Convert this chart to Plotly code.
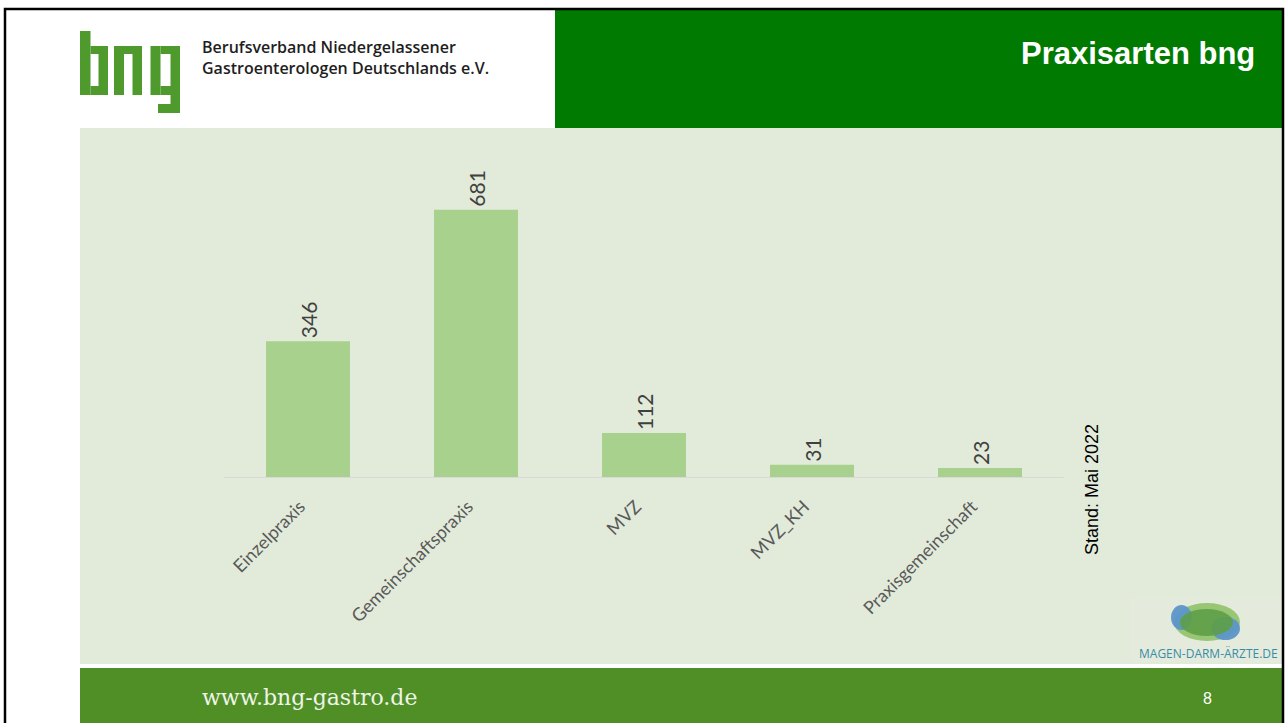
import plotly.graph_objects as go

# Praxisarten der bng-Mitglieder
categories = ["Einzelpraxis", "Gemeinschaftspraxis", "MVZ", "MVZ_KH", "Praxisgemeinschaft"]
counts = [346, 681, 112, 31, 23]

title_text = "Praxisarten bng"
org_lines = ["Berufsverband Niedergelassener", "Gastroenterologen Deutschlands e.V."]
stand_text = "Stand: Mai 2022"
footer_url = "www.bng-gastro.de"
page_no = "8"
partner_text = "MAGEN-DARM-ÄRZTE.DE"

W, H = 1285, 723
L, R, T, B = 224, 1064, 163, 477  # plot area in pixels


def px(x):
    return (x - L) / (R - L)


def py(y):
    return (B - y) / (B - T)


def rect(x0, y0, x1, y1, color, layer="below", line=None, opacity=1.0):
    return dict(
        type="rect", xref="paper", yref="paper",
        x0=px(x0), x1=px(x1), y0=py(y1), y1=py(y0),
        fillcolor=color, opacity=opacity, layer=layer,
        line=line or dict(width=0),
    )


def ellipse(x0, y0, x1, y1, color, opacity):
    return dict(
        type="circle", xref="paper", yref="paper",
        x0=px(x0), x1=px(x1), y0=py(y1), y1=py(y0),
        fillcolor=color, opacity=opacity, layer="above",
        line=dict(width=0),
    )


shapes = [
    # header, title band, chart panel, footer
    rect(0, 0, W, H, "white"),
    rect(555, 9, 1283, 128, "#007A00"),
    rect(80, 128, 1283, 664, "#E2EBD9"),
    rect(80, 664, 1283, 668, "#FFFFFF"),
    rect(80, 668, 1283, 730, "#4F8F26"),
    rect(1130, 598, 1282, 662, "#E4EBDD"),
]

# bng logo drawn from blocky strokes
logo_green = "#4F9A2C"
top, xh, xb, bb, base, hk, bot = 31, 46, 54, 86, 95, 104, 113
logo_parts = [
    # b
    (80, top, 90.5, base), (90.5, xh, 108, xb), (98.5, xh, 108, base), (90.5, bb, 108, base),
    # n
    (114, xh, 124, base), (124, xh, 142, xb), (132.5, xh, 142, base),
    # g
    (150.5, xh, 160.5, base), (160.5, xh, 180, xb), (170.5, xh, 180, bot),
    (160.5, bb, 180, base), (158, hk, 180, bot),
]
for x0, y0, x1, y1 in logo_parts:
    shapes.append(rect(x0, y0, x1, y1, logo_green, layer="above"))

# partner logo blobs
shapes += [
    ellipse(1174, 603, 1240, 641, "#93C46F", 0.95),
    ellipse(1171, 605, 1192, 630, "#5C96C8", 0.95),
    ellipse(1211, 617, 1240, 640, "#5C96C8", 0.95),
    ellipse(1180, 609, 1233, 636, "#5E9F48", 0.9),
]

# frame
shapes.append(dict(
    type="rect", xref="paper", yref="paper",
    x0=px(5), x1=px(1283), y0=py(740), y1=py(9),
    line=dict(color="black", width=2.5), fillcolor="rgba(0,0,0,0)", layer="above",
))


def note(text, x, y, size, color, family, xanchor="center", yanchor="middle",
         angle=0, weight="normal", align="center"):
    return dict(
        text=text, x=px(x), y=py(y), xref="paper", yref="paper",
        xanchor=xanchor, yanchor=yanchor, showarrow=False, textangle=angle,
        align=align,
        font=dict(size=size, color=color, family=family, weight=weight),
    )


annotations = [
    note(title_text, 1257, 54, 31, "white", "Liberation Sans", xanchor="right", weight="bold"),
    note("<br>".join(org_lines), 200, 58, 16, "#1E1E1E", "Open Sans",
         xanchor="left", weight=600, align="left"),
    note(stand_text, 1092, 490, 18, "black", "Liberation Sans", angle=-90),
    note(footer_url, 200, 697, 22, "#EEF4E8", "DejaVu Serif", xanchor="left"),
    note(page_no, 1207, 698, 16, "white", "Liberation Sans"),
    note(partner_text, 1208, 653.5, 12, "#3A8CA6", "Open Sans"),
]

fig = go.Figure(go.Bar(
    x=categories, y=counts,
    marker=dict(color="#A9D18E", line=dict(width=0)),
    text=[str(v) for v in counts], textposition="outside", textangle=-90,
    textfont=dict(family="Lato", size=21, color="#404040"),
    cliponaxis=False, width=0.5,
))

fig.update_layout(
    width=W, height=H,
    margin=dict(l=L, r=W - R, t=T, b=H - B, pad=0),
    paper_bgcolor="white", plot_bgcolor="rgba(0,0,0,0)",
    showlegend=False,
    shapes=shapes, annotations=annotations,
    xaxis=dict(
        showline=True, linecolor="#D9D9D9", linewidth=1.2, ticks="",
        tickangle=-45, tickfont=dict(family="Lato", size=18, color="#595959"),
        ticklabelstandoff=11, ticklabelshift=-8,
        showgrid=False, fixedrange=True,
    ),
    yaxis=dict(
        range=[0, 800], visible=False, showgrid=False, zeroline=False, fixedrange=True,
    ),
)

fig.write_html("out.html", config=dict(displayModeBar=False))
